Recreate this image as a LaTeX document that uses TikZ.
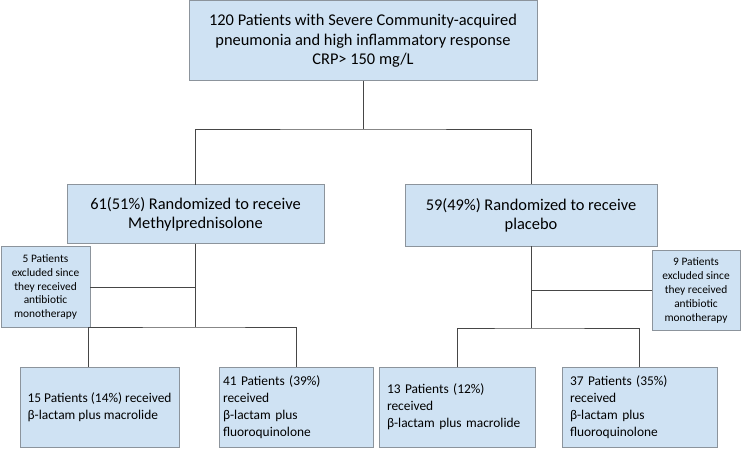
\documentclass[tikz,border=0pt]{standalone}
\usepackage{fontspec}
\setmainfont{Carlito}
\hyphenpenalty=10000
\exhyphenpenalty=10000
\definecolor{boxfill}{RGB}{207,226,243}
\definecolor{boxline}{RGB}{140,148,156}
\definecolor{conn}{RGB}{70,70,70}
\begin{document}
\begin{tikzpicture}[x=1pt,y=-1pt,
  box/.style={draw=boxline, fill=boxfill, line width=1pt, inner sep=0pt, outer sep=0pt, align=center},
  bigtxt/.style={font=\fontsize{16.4}{19.5}\selectfont},
  smalltxt/.style={font=\fontsize{11.4}{13.8}\selectfont},
  midtxt/.style={font=\fontsize{13.4}{16.8}\selectfont, align=left, inner xsep=6pt},
  link/.style={draw=conn, line width=0.9pt}]
\useasboundingbox (0,0) rectangle (742,449);

\node[box, bigtxt, minimum width=348pt, minimum height=80pt] (top) at (363,41)
  {120 Patients with Severe Community-acquired\\pneumonia and high inflammatory response\\CRP> 150 mg/L};

\node[box, bigtxt, minimum width=257pt, minimum height=59pt] (m) at (195.5,214.5)
  {61(51\%) Randomized to receive\\Methylprednisolone};
\node[box, bigtxt, minimum width=252pt, minimum height=62pt] (p) at (531,215.5)
  {59(49\%) Randomized to receive\\placebo};

\node[box, smalltxt, minimum width=89pt, minimum height=80pt] (ex1) at (45.5,287)
  {5 Patients\\excluded since\\they received\\antibiotic\\monotherapy};
\node[box, smalltxt, minimum width=88pt, minimum height=79pt] (ex2) at (696,290.5)
  {9 Patients\\excluded since\\they received\\antibiotic\\monotherapy};

\node[box, midtxt, minimum width=159pt, minimum height=80pt] (a) at (99.5,407)
  {15 Patients (14\%) received\\β-lactam plus macrolide};
\node[box, midtxt, inner xsep=4pt, minimum width=154pt, minimum height=80pt, text width=146pt] (b) at (296,407)
  {41 Patients (39\%)\\received\\β-lactam plus\\fluoroquinolone};
\node[box, midtxt, inner xsep=8pt, minimum width=156pt, minimum height=80pt, text width=140pt] (c) at (457,407)
  {13 Patients (12\%)\\received\\β-lactam plus macrolide};
\node[box, midtxt, inner xsep=8pt, minimum width=155pt, minimum height=80pt, text width=139pt] (d) at (639.5,407)
  {37 Patients (35\%)\\received\\β-lactam plus\\fluoroquinolone};

\coordinate (jT) at (363,129);
\coordinate (jL) at (195.5,327);
\coordinate (jR) at (531,328);

\draw[link] (top.south) -- (jT);
\draw[link] (m.north) |- (jT) -| (p.north);

\draw[link] (m.south) -- (jL);
\draw[link] (ex1.east) -- (ex1.east -| m.south);
\draw[link] ([xshift=-11.5pt]a.north) |- (jL) -| (b.north);

\draw[link] (p.south) -- (jR);
\draw[link] (ex2.west) -- (ex2.west -| p.south);
\draw[link] (c.north) |- (jR) -| (d.north);
\end{tikzpicture}
\end{document}
